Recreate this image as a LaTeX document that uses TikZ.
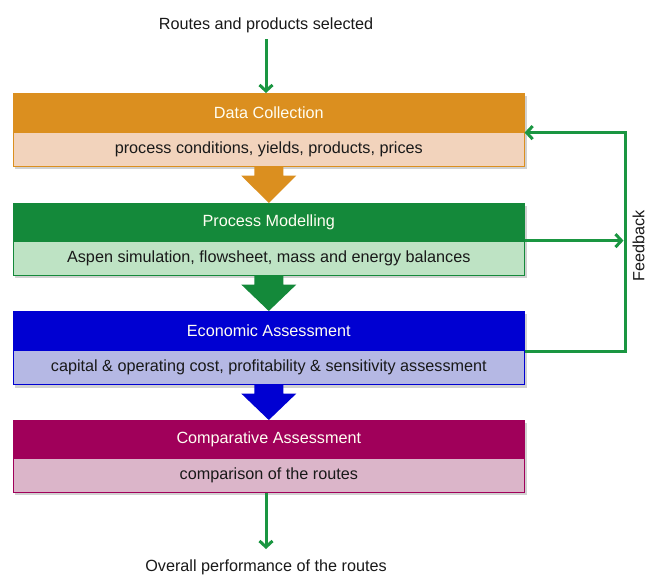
\documentclass[tikz,border=0pt]{standalone}
\usepackage{fontspec}
\setmainfont{Liberation Sans}
\usetikzlibrary{arrows.meta,calc}
\definecolor{cOr}{HTML}{DB8F1F}
\definecolor{cOrL}{HTML}{F2D3BC}
\definecolor{cGr}{HTML}{14893A}
\definecolor{cGrL}{HTML}{BEE3C4}
\definecolor{cBl}{HTML}{0000D2}
\definecolor{cBlL}{HTML}{B5B8E4}
\definecolor{cMg}{HTML}{A0005A}
\definecolor{cMgL}{HTML}{DBB5C9}
\definecolor{cLine}{HTML}{1A9641}
\tikzset{
  hdr/.style={anchor=north west, minimum width=511pt, minimum height=39pt, inner sep=0pt, fill=#1, draw=#1, line width=0.6pt, text=white!95!yellow, font=\fontsize{16.2}{19}\selectfont},
  bdy/.style={anchor=north west, minimum width=511pt, minimum height=34pt, inner sep=0pt, draw=#1, line width=0.6pt, text=black!90, font=\fontsize{16.2}{19}\selectfont},
  shd/.style={fill=black!18},
  flow/.style={draw=cLine, line width=3pt, -{Straight Barb[length=6pt,width=13pt,line width=3pt]}},
  fb/.style={draw=cLine, line width=3pt},
  lbl/.style={font=\fontsize{16.2}{19}\selectfont, inner sep=0pt, text=black!90}
}
\begin{document}
\begin{tikzpicture}[x=1pt,y=-1pt]
\useasboundingbox (0,0) rectangle (647,576);
% shadows
\fill[shd] (15,96) rectangle (527,169);
\fill[shd] (15,206) rectangle (527,278);
\fill[shd] (15,314) rectangle (527,388);
\fill[shd] (15,423) rectangle (527,495);
% boxes
\node[hdr=cOr] (h1) at (13,93) {Data Collection};
\node[bdy=cOr, fill=cOrL] (b1) at (13,132) {process conditions, yields, products, prices};
\node[hdr=cGr] (h2) at (13,203) {Process Modelling};
\node[bdy=cGr, fill=cGrL] (b2) at (13,241) {Aspen simulation, flowsheet, mass and energy balances};
\node[hdr=cBl] (h3) at (13,311) {Economic Assessment};
\node[bdy=cBl, fill=cBlL] (b3) at (13,350) {capital \& operating cost, profitability \& sensitivity assessment};
\node[hdr=cMg] (h4) at (13,420) {Comparative Assessment};
\node[bdy=cMg, fill=cMgL] (b4) at (13,458) {comparison of the routes};
% block arrows
\foreach \b/\h/\c in {b1/h2/cOr, b2/h3/cGr, b3/h4/cBl}{
  \fill[\c] ($(\b.south)+(-14.5,0.6)$) -- ($(\b.south)+(14.5,0.6)$) -- ($(\b.south)+(14.5,9)$) -- ($(\b.south)+(27.5,9)$)
     -- (\h.north) -- ($(\b.south)+(-27.5,9)$) -- ($(\b.south)+(-14.5,9)$) -- cycle;
}
% texts
\node[lbl] (top) at (266,25) {Routes and products selected};
\node[lbl] (bot) at (266,567) {Overall performance of the routes};
\draw[flow] (266,39) -- (h1.north -| 266,0);
\coordinate (bend) at (266,549);
\draw[flow] (b4.south -| 266,0) -- (bend);
% feedback
\coordinate (fr) at (625,0);
\coordinate (fbTop) at (fr |- h1.south);
\coordinate (fbBot) at (fr |- b3.north);
\draw[fb] ($(b3.north east)+(0,1)$) -- ($(fbBot)+(0,1)$) -- ($(fbTop)+(0,-1.5)$);
\draw[flow] (fbTop) -- (h1.south east);
\draw[flow] ($(h2.south east)+(0,-2)$) -- ($(fr |- h2.south)+(-1.5,-2)$);
\node[lbl, rotate=90] (fbl) at (638.5,246) {Feedback};
\end{tikzpicture}
\end{document}
